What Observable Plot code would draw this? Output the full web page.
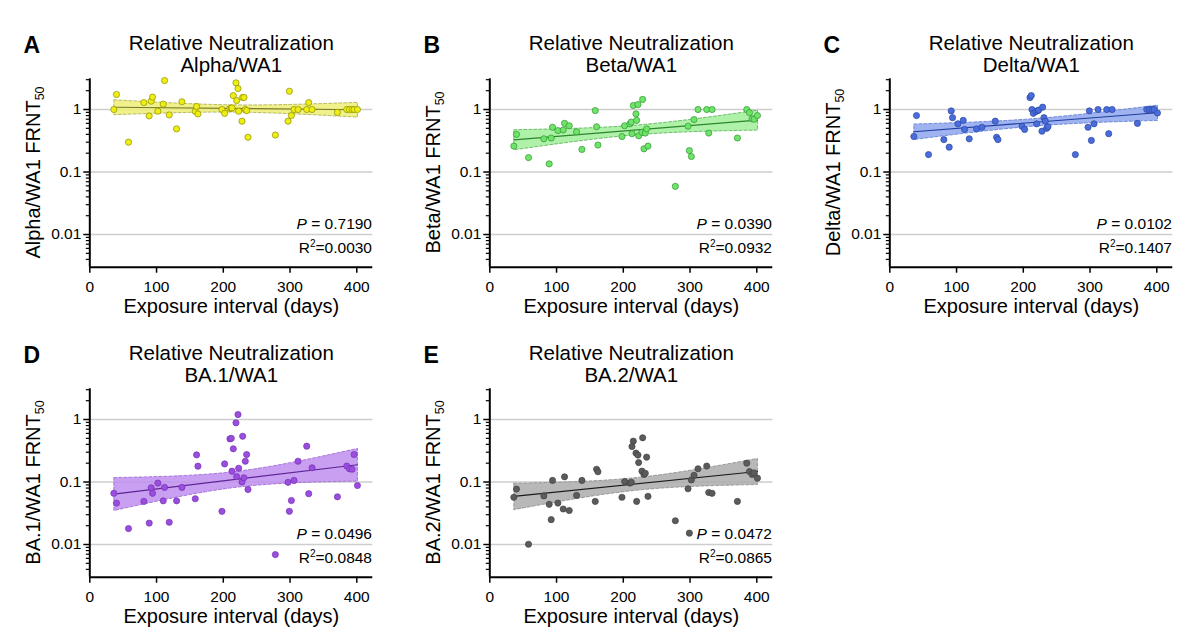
<!DOCTYPE html>
<html>
<head>
<meta charset="utf-8">
<script src="https://cdn.jsdelivr.net/npm/d3@7"></script>
<script src="https://cdn.jsdelivr.net/npm/@observablehq/plot@0.6"></script>
<style>
  html, body { margin: 0; padding: 0; background: #fff; }
  #wrap { position: relative; width: 1200px; height: 642px; overflow: hidden; background: #fff; }
  .panel { position: absolute; width: 400px; height: 320px; }
  .panel svg { overflow: visible; background: transparent; }
</style>
</head>
<body>
<div id="wrap"></div>
<script>
// ---- data ----
const days = [36, 40, 58, 81, 89, 92, 94, 102, 110, 112, 119, 130, 138,
  158, 160, 162,
  198, 202,
  210, 212, 213, 215, 219, 220, 222, 223, 228, 229, 231, 233, 235, 237,
  278,
  297, 299, 302, 306, 312,
  325, 328, 333,
  371,
  385, 389, 393, 396, 401];

const alphaWA1 = [1.0, 1.74, 0.30, 1.29, 0.79, 1.36, 1.58, 0.94, 1.22, 2.91, 0.82, 0.49, 1.33,
  0.93, 1.12, 0.85,
  1.0, 0.87,
  1.04, 1.05, 1.06, 1.67, 2.67, 1.39, 2.17, 0.94, 0.65, 1.56, 1.56, 1.0, 0.96, 0.36,
  0.39,
  0.65, 1.96, 0.80, 1.0, 1.0,
  1.0, 1.29, 1.0,
  0.90,
  1.0, 1.0, 1.0, 1.0, 1.0];

const betaWA1 = [0.26, 0.40, 0.17, 0.34, 0.135, 0.35, 0.52, 0.46, 0.47, 0.60, 0.55, 0.44, 0.23,
  0.96, 0.53, 0.27,
  0.37, 0.55,
  0.59, 0.63, 0.41, 1.16, 0.85, 0.67, 1.2, 0.38, 0.43, 1.45, 0.235, 0.42, 0.49, 0.26,
  0.059,
  0.54, 0.22, 0.177, 0.69, 1.0,
  1.0, 0.42, 1.0,
  0.35,
  1.0, 0.89, 0.71, 0.70, 0.80];

const deltaWA1 = [0.37, 0.80, 0.19, 0.33, 0.25, 0.95, 0.74, 0.59, 0.67, 0.48, 0.34, 0.49, 0.52,
  0.65, 0.36, 0.33,
  0.54, 0.48,
  1.55, 1.67, 1.0, 0.87, 0.93, 0.59, 0.96, 0.98, 0.45, 1.09, 0.74, 0.65, 0.50, 0.53,
  0.19,
  0.52, 0.95, 0.32, 0.59, 1.0,
  1.0, 0.41, 1.0,
  0.60,
  1.0, 1.0, 1.0, 1.0, 0.88];

const ba1WA1 = [0.066, 0.046, 0.018, 0.049, 0.022, 0.081, 0.066, 0.096, 0.050, 0.082, 0.0227, 0.050, 0.082,
  0.054, 0.272, 0.179,
  0.034, 0.195,
  0.49, 0.50, 0.149, 0.34, 0.885, 0.122, 1.2, 0.166, 0.10, 0.54, 0.117, 0.215, 0.275, 0.076,
  0.0069,
  0.099, 0.034, 0.0506, 0.106, 0.215,
  0.374, 0.065, 0.169,
  0.058,
  0.18, 0.163, 0.16, 0.275, 0.088];

const ba2WA1 = [0.057, 0.077, 0.0101, 0.060, 0.044, 0.025, 0.106, 0.046, 0.037, 0.121, 0.035, 0.061, 0.106,
  0.049, 0.16, 0.146,
  0.057, 0.102,
  0.096, 0.099, 0.37, 0.45, 0.29, 0.049, 0.27, 0.205, 0.149, 0.51, 0.132, 0.138, 0.25, 0.059,
  0.024,
  0.078, 0.0152, 0.108, 0.128, 0.163,
  0.18, 0.068, 0.066,
  0.049,
  0.20, 0.147, 0.132, 0.14, 0.115];

const panelLetters = ["A", "B", "C", "D", "E"];
const variantNames = ["Alpha/WA1", "Beta/WA1", "Delta/WA1", "BA.1/WA1", "BA.2/WA1"];
const pValues = ["0.7190", "0.0390", "0.0102", "0.0496", "0.0472"];
const r2Values = ["0.0030", "0.0932", "0.1407", "0.0848", "0.0865"];
const seriesValues = [alphaWA1, betaWA1, deltaWA1, ba1WA1, ba2WA1];

const xTicks = [0, 100, 200, 300, 400];
const yTicks = [1, 0.1, 0.01];
const yMinorTicks = [3, 2, 0.9, 0.8, 0.7, 0.6, 0.5, 0.4, 0.3, 0.2,
  0.09, 0.08, 0.07, 0.06, 0.05, 0.04, 0.03, 0.02,
  0.009, 0.008, 0.007, 0.006, 0.005, 0.004];

// ---- styles ----
const palettes = [
  {dot: "#eeee14", dotStroke: "#8c8c00", band: "#efef78", edge: "#a9a94a", line: "#7a7a28"},
  {dot: "#6ee46a", dotStroke: "#2f952f", band: "#a2ee9a", edge: "#4fae4f", line: "#2a862a"},
  {dot: "#4b6ddb", dotStroke: "#2a46a2", band: "#8ea6ee", edge: "#5a78d0", line: "#1f3d9e"},
  {dot: "#9b4ddd", dotStroke: "#7432b4", band: "#c08ef0", edge: "#9a62d0", line: "#5f2596"},
  {dot: "#5b5b5b", dotStroke: "#444444", band: "#acacac", edge: "#8a8a8a", line: "#1a1a1a"}
];
const FONT = "'Liberation Sans', Arial, Helvetica, sans-serif";
const wrap = document.getElementById("wrap");

panelLetters.forEach((letter, k) => {
  const row = Math.floor(k / 3), col = k % 3;
  const pal = palettes[k];
  const vals = seriesValues[k];
  const data = days.map((d, i) => ({day: d, ratio: vals[i]}));

  const svg = Plot.plot({
    width: 400,
    height: 320,
    marginLeft: 89.3,
    marginRight: 27.7,
    marginTop: 78.3,
    marginBottom: 53.3,
    style: {fontFamily: FONT, fontSize: "15px", color: "#000", background: "transparent", overflow: "visible"},
    x: {domain: [0, 424], axis: null},
    y: {type: "log", domain: [0.003, 3.1], axis: null},
    marks: [
      Plot.gridY(yTicks, {stroke: "#cdcdcd", strokeOpacity: 1, strokeWidth: 1.5}),
      Plot.linearRegressionY(data, {x: "day", y: "ratio", stroke: pal.line, strokeWidth: 1.2,
        fill: pal.band, fillOpacity: 0.85, ci: 0.95}),
      Plot.dot(data, {x: "day", y: "ratio", r: 3.1, fill: pal.dot, stroke: pal.dotStroke, strokeWidth: 0.7}),
      Plot.ruleX([0], {stroke: "#000", strokeWidth: 2}),
      Plot.ruleY([0.003], {stroke: "#000", strokeWidth: 2}),
      Plot.axisX(xTicks, {tickSize: 6, tickPadding: 8, fontSize: 15.5, label: null, strokeWidth: 1.5}),
      Plot.axisY(yTicks, {tickSize: 6, tickPadding: 2.5, fontSize: 15.5, label: null, strokeWidth: 1.5,
        tickFormat: (d) => String(d)}),
      Plot.axisY(yMinorTicks, {tickSize: 3.5, label: null, strokeWidth: 1.2, tickFormat: () => ""}),
      Plot.text([letter], {frameAnchor: "top-left", dx: -66.3, dy: -26.3, textAnchor: "start",
        lineAnchor: "bottom", fontSize: 23, fontWeight: "bold"}),
      Plot.text(["Relative Neutralization"], {frameAnchor: "top", dy: -29, lineAnchor: "bottom", fontSize: 20.5}),
      Plot.text([variantNames[k]], {frameAnchor: "top", dy: -6.6, lineAnchor: "bottom", fontSize: 20.5}),
      Plot.text(["Exposure interval (days)"], {frameAnchor: "bottom", dy: 45.5, lineAnchor: "bottom", fontSize: 20})
    ]
  });

  const s = d3.select(svg);
  // tick label size
  s.selectAll('g[aria-label="x-axis tick label"], g[aria-label="y-axis tick label"]')
    .attr("font-size", 15.5).style("font-size", "15.5px");
  // dashed confidence-band edges
  s.selectAll('g[aria-label="linear-regression"] > path:first-child')
    .style("stroke", pal.edge).style("stroke-dasharray", "3,2").style("stroke-width", "0.8");

  // y-axis label with subscript
  const yl = s.append("text")
    .attr("transform", "translate(39.5,172.5) rotate(-90)")
    .attr("text-anchor", "middle").attr("font-size", 20).attr("fill", "#000");
  yl.append("tspan").text(variantNames[k] + " FRNT");
  yl.append("tspan").attr("font-size", 12.5).attr("dy", 4).text("50");

  // P and R² annotations
  const t1 = s.append("text").attr("x", 372).attr("y", 229.3)
    .attr("text-anchor", "end").attr("font-size", 15.5).attr("fill", "#000");
  t1.append("tspan").attr("font-style", "italic").text("P");
  t1.append("tspan").text("\u00a0= " + pValues[k]);

  const t2 = s.append("text").attr("x", 372).attr("y", 253.3)
    .attr("text-anchor", "end").attr("font-size", 15.5).attr("fill", "#000");
  t2.append("tspan").text("R");
  t2.append("tspan").attr("font-size", 10).attr("dy", -6).text("2");
  t2.append("tspan").attr("dy", 6).text("=" + r2Values[k]);

  const div = document.createElement("div");
  div.className = "panel";
  div.style.left = (col * 400) + "px";
  div.style.top = (row * 310) + "px";
  div.appendChild(svg);
  wrap.appendChild(div);
});
</script>
</body>
</html>
